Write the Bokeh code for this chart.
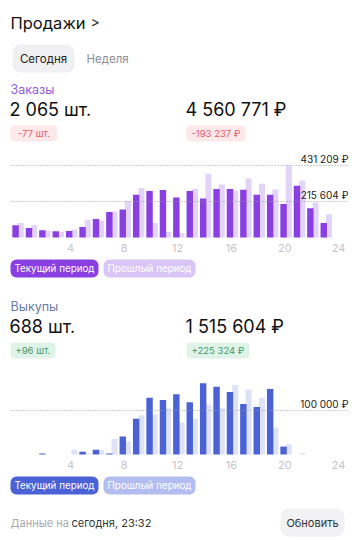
from bokeh.plotting import figure
from bokeh.models import Range1d, ColumnDataSource, BoxAnnotation
from bokeh.transform import dodge
from bokeh.core.properties import value
from bokeh.embed import file_html
from bokeh.resources import INLINE

# ---------------- data ----------------
hours = list(range(24))
tick_hours = [4, 8, 12, 16, 20, 24]
tick_labels = ["4", "8", "12", "16", "20", "24"]

orders_current = [73000, 57000, 44000, 38000, 39000, 63000, 111000, 153000, 167000, 256000,
                  278000, 284000, 240000, 278000, 233000, 290000, 290000, 286000, 256000, 256000,
                  200000, 310000, 175000, 87000]
orders_past = [87000, 73000, 40000, 35000, 48000, 107000, 100000, 155000, 218000, 296000,
               87000, 35000, 25000, 290000, 382000, 318000, 280000, 355000, 322000, 288000,
               431209, 342000, 210000, 139000]
orders_grid = [431209, 215604]
orders_grid_labels = ["431 209 ₽", "215 604 ₽"]

buyouts_current = [0, 0, 2000, 0, 0, 6000, 11000, 2000, 41000, 81000,
                   129000, 124000, 137000, 119000, 162000, 154000, 142000, 115000, 108000, 149000,
                   18000, 0, 0, 0]
buyouts_past = [0, 0, 0, 0, 11000, 3000, 10000, 35000, 30000, 89000,
                91000, 105000, 73000, 81000, 113000, 105000, 158000, 147000, 129000, 61000,
                23000, 3000, 0, 0]
buyouts_grid = [100000]
buyouts_grid_labels = ["100 000 ₽"]

# ---------------- geometry ----------------
W, H = 358, 540
FONT = value("Inter")
x0_px, px_per_h = 16.4, 13.4
c1_base, c1_top_px, c1_top_val = 237, 165, 431209
c2_base, c2_ref_px, c2_ref_val = 454, 410, 100000

s1 = c1_top_val / (c1_base - c1_top_px)
s2 = c2_ref_val / (c2_base - c2_ref_px)

p = figure(width=W, height=H, output_backend="svg", toolbar_location=None,
           x_range=Range1d(-x0_px / px_per_h, (W - x0_px) / px_per_h),
           y_range=Range1d(-(H - c1_base) * s1, c1_base * s1),
           min_border=0, outline_line_color=None, background_fill_color="white",
           border_fill_color="white")
p.axis.visible = False
p.grid.visible = False
p.extra_y_ranges = {"c2": Range1d(-(H - c2_base) * s2, c2_base * s2),
                    "px": Range1d(H, 0)}
p.extra_x_ranges = {"px": Range1d(0, W)}


def txt(x, y, t, size, color, align="left", baseline="middle", style="normal"):
    p.text(x=[x], y=[y], text=[t], text_font=FONT, text_font_size=size, text_color=color,
           text_align=align, text_baseline=baseline, text_font_style=style,
           x_range_name="px", y_range_name="px")


def pill(l, r, t, b, color, radius):
    p.add_layout(BoxAnnotation(left=l, right=r, top=t, bottom=b, fill_color=color, fill_alpha=1,
                               line_color=None, border_radius=radius,
                               x_range_name="px", y_range_name="px", level="underlay"))


# ---------------- header ----------------
txt(10, 22, "Продажи", "16.5px", "#111111")
txt(90, 21, ">", "14px", "#333333")
pill(12, 74, 44, 72, "#f0f0f3", 8)
txt(43, 58, "Сегодня", "11.5px", "#222222", align="center")
txt(86, 58, "Неделя", "11.5px", "#8e8e93")

# ---------------- orders block ----------------
txt(10, 89, "Заказы", "12.5px", "#8e5ad8")
txt(9, 109, "2 065 шт.", "18px", "#111111")
txt(185, 109, "4 560 771 ₽", "18px", "#111111")
pill(10, 57, 125, 141, "#fde8ea", 4)
txt(33.5, 133, "-77 шт.", "9.5px", "#e35d67", align="center")
pill(186, 245, 125, 141, "#fde8ea", 4)
txt(215.5, 133, "-193 237 ₽", "9.5px", "#e35d67", align="center")

src1 = ColumnDataSource(dict(h=hours, cur=orders_current, past=orders_past))
p.vbar(x=dodge("h", 0.29, range=p.x_range), top="past", bottom=0, width=0.45, source=src1,
       fill_color="#e2d4f8", line_color=None)
p.vbar(x=dodge("h", -0.1, range=p.x_range), top="cur", bottom=0, width=0.48, source=src1,
       fill_color="#8a3fe3", line_color=None)
p.segment(x0=[10] * len(orders_grid), x1=[348] * len(orders_grid), y0=orders_grid, y1=orders_grid,
          x_range_name="px", line_color="#9a9a9a", line_dash="1 2", line_width=1)
p.text(x=[348] * len(orders_grid), y=orders_grid, text=orders_grid_labels, text_font=FONT,
       text_font_size="10px", text_color="#222222", text_align="right", text_baseline="bottom",
       y_offset=-1, x_range_name="px")
p.text(x=tick_hours, y=[0] * len(tick_hours), text=tick_labels, text_font=FONT,
       text_font_size="11px", text_color="#c4c4c8", text_align="center", text_baseline="middle",
       y_offset=10)
pill(10, 98, 259, 277, "#8a3fe3", 6)
txt(54, 268, "Текущий период", "9.8px", "#ffffff", align="center")
pill(103, 195, 259, 277, "#dac6f6", 6)
txt(149, 268, "Прошлый период", "9.8px", "#ffffff", align="center")

# ---------------- buyouts block ----------------
txt(10, 306, "Выкупы", "12.5px", "#6a7aa8")
txt(9, 326, "688 шт.", "18px", "#111111")
txt(185, 326, "1 515 604 ₽", "18px", "#111111")
pill(10, 55, 342, 358, "#e0f3e8", 4)
txt(32.5, 350, "+96 шт.", "9.5px", "#3f9a6a", align="center")
pill(186, 249, 342, 358, "#e0f3e8", 4)
txt(217.5, 350, "+225 324 ₽", "9.5px", "#3f9a6a", align="center")

src2 = ColumnDataSource(dict(h=hours, cur=buyouts_current, past=buyouts_past))
p.vbar(x=dodge("h", 0.29, range=p.x_range), top="past", bottom=0, width=0.45, source=src2,
       fill_color="#dde2f6", line_color=None, y_range_name="c2")
p.vbar(x=dodge("h", -0.1, range=p.x_range), top="cur", bottom=0, width=0.48, source=src2,
       fill_color="#4a62d6", line_color=None, y_range_name="c2")
p.segment(x0=[10] * len(buyouts_grid), x1=[348] * len(buyouts_grid), y0=buyouts_grid, y1=buyouts_grid,
          x_range_name="px", y_range_name="c2", line_color="#9a9a9a", line_dash="1 2", line_width=1)
p.text(x=[348] * len(buyouts_grid), y=buyouts_grid, text=buyouts_grid_labels, text_font=FONT,
       text_font_size="10px", text_color="#222222", text_align="right", text_baseline="bottom",
       y_offset=-1, x_range_name="px", y_range_name="c2")
p.text(x=tick_hours, y=[0] * len(tick_hours), text=tick_labels, text_font=FONT,
       text_font_size="11px", text_color="#c4c4c8", text_align="center", text_baseline="middle",
       y_offset=10, y_range_name="c2")
pill(10, 98, 476, 494, "#4a62d6", 6)
txt(54, 485, "Текущий период", "9.8px", "#ffffff", align="center")
pill(103, 195, 476, 494, "#b3bdef", 6)
txt(149, 485, "Прошлый период", "9.8px", "#ffffff", align="center")

# ---------------- footer ----------------
txt(10, 522, "Данные на", "11px", "#a8a8ad")
txt(71, 522, "сегодня, 23:32", "11px", "#333333")
pill(280, 344, 508, 536, "#f2f2f4", 8)
txt(312, 522, "Обновить", "11px", "#333333", align="center")

open("out.html", "w").write(file_html(p, INLINE))
